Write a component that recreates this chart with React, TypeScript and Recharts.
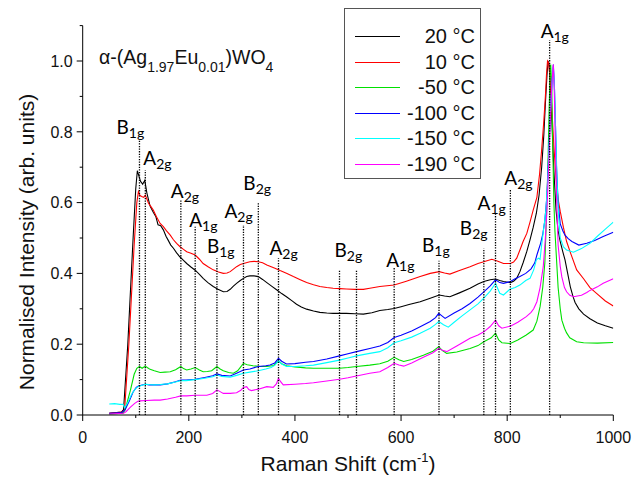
import React from 'react';
import { LineChart, Line, XAxis, YAxis, ReferenceLine, ReferenceDot } from 'recharts';

// ---------- data (Raman shift cm^-1, normalised intensity) ----------
const t20: number[][] = [[50,0.005],[73,0.008],[77,0.015],[85,0.2],[95,0.5],[100,0.64],[103,0.69],[106,0.675],[109,0.66],[113,0.652],[117,0.663],[121,0.627],[127,0.59],[133,0.573],[138,0.56],[142,0.537],[147,0.535],[152,0.523],[157,0.505],[161,0.494],[166,0.48],[171,0.471],[177,0.458],[183,0.447],[190,0.437],[196,0.428],[204,0.418],[212,0.409],[220,0.397],[227,0.386],[236,0.374],[246,0.363],[255,0.355],[265,0.348],[272,0.349],[278,0.355],[284,0.364],[290,0.372],[297,0.38],[303,0.386],[309,0.391],[315,0.393],[323,0.393],[331,0.391],[339,0.383],[347,0.374],[356,0.364],[366,0.353],[375,0.343],[384,0.334],[394,0.323],[403,0.313],[412,0.305],[422,0.299],[435,0.294],[447,0.29],[460,0.288],[472,0.287],[485,0.287],[497,0.287],[513,0.286],[529,0.285],[545,0.289],[560,0.295],[575,0.298],[587,0.301],[600,0.306],[615,0.312],[636,0.32],[655,0.33],[672,0.339],[682,0.336],[692,0.334],[710,0.345],[730,0.358],[745,0.37],[756,0.377],[768,0.382],[778,0.384],[786,0.38],[793,0.377],[806,0.374],[812,0.378],[818,0.386],[824,0.405],[830,0.43],[837,0.462],[843,0.495],[849,0.53],[855,0.57],[860,0.62],[865,0.7],[869,0.79],[872,0.88],[875,0.96],[877,1.0],[879,0.99],[882,0.92],[885,0.8],[888,0.69],[892,0.58],[896,0.52],[900,0.49],[905,0.46],[909,0.438],[914,0.4],[919,0.362],[924,0.335],[928,0.318],[935,0.3],[944,0.285],[956,0.272],[970,0.26],[985,0.252],[1000,0.245]];

const t10: number[][] = [[50,0.005],[75,0.008],[79,0.015],[87,0.2],[97,0.48],[102,0.6],[105,0.631],[108,0.62],[111,0.617],[115,0.615],[118,0.621],[121,0.61],[124,0.598],[128,0.59],[133,0.579],[139,0.56],[146,0.541],[152,0.532],[158,0.52],[165,0.508],[171,0.495],[177,0.485],[183,0.476],[190,0.468],[196,0.461],[204,0.457],[212,0.452],[220,0.44],[227,0.428],[237,0.418],[246,0.41],[256,0.404],[265,0.4],[272,0.401],[278,0.405],[284,0.412],[290,0.419],[297,0.425],[303,0.428],[315,0.433],[323,0.434],[331,0.433],[339,0.43],[347,0.424],[360,0.416],[372,0.408],[385,0.4],[397,0.391],[410,0.382],[422,0.374],[435,0.368],[447,0.363],[460,0.36],[472,0.358],[485,0.357],[497,0.356],[513,0.355],[529,0.355],[541,0.358],[560,0.363],[587,0.367],[610,0.378],[636,0.391],[655,0.4],[672,0.405],[682,0.401],[692,0.398],[710,0.408],[730,0.419],[745,0.428],[756,0.433],[771,0.44],[780,0.436],[793,0.428],[806,0.428],[812,0.432],[818,0.443],[824,0.466],[830,0.49],[837,0.513],[843,0.545],[849,0.579],[856,0.615],[861,0.68],[865,0.75],[869,0.83],[872,0.9],[874,0.96],[876,1.0],[878,0.995],[881,0.95],[884,0.87],[888,0.76],[892,0.67],[896,0.61],[900,0.575],[906,0.53],[912,0.49],[920,0.455],[931,0.41],[944,0.385],[956,0.36],[969,0.343],[985,0.322],[1000,0.308]];

const tm50: number[][] = [[50,0.003],[76,0.005],[80,0.015],[90,0.07],[97,0.115],[102,0.132],[107,0.137],[112,0.132],[118,0.138],[123,0.133],[127,0.129],[135,0.125],[146,0.12],[155,0.121],[165,0.122],[175,0.128],[185,0.137],[190,0.131],[196,0.127],[204,0.13],[212,0.134],[220,0.127],[227,0.122],[235,0.123],[243,0.125],[253,0.137],[259,0.13],[265,0.125],[275,0.12],[284,0.118],[292,0.125],[300,0.14],[303,0.146],[310,0.142],[321,0.139],[335,0.137],[347,0.137],[360,0.14],[369,0.153],[375,0.145],[384,0.139],[400,0.136],[420,0.133],[435,0.132],[460,0.132],[484,0.132],[500,0.134],[516,0.137],[541,0.141],[560,0.145],[575,0.152],[587,0.163],[596,0.156],[605,0.151],[620,0.157],[642,0.169],[660,0.18],[671,0.193],[678,0.182],[686,0.174],[705,0.178],[730,0.188],[745,0.196],[756,0.207],[770,0.218],[778,0.231],[784,0.212],[790,0.204],[806,0.202],[820,0.212],[836,0.226],[849,0.24],[856,0.265],[862,0.306],[867,0.36],[871,0.43],[874,0.56],[877,0.72],[879,0.86],[881,0.97],[882,0.99],[884,0.93],[886,0.75],[888,0.6],[890,0.52],[892,0.466],[896,0.36],[900,0.3],[903,0.268],[908,0.245],[912,0.232],[918,0.218],[931,0.207],[944,0.204],[970,0.203],[1000,0.205]];

const tm100: number[][] = [[50,0.005],[74,0.007],[80,0.015],[88,0.04],[95,0.065],[101,0.078],[105,0.082],[112,0.085],[118,0.087],[125,0.085],[135,0.085],[146,0.085],[160,0.088],[175,0.094],[185,0.099],[195,0.099],[212,0.101],[230,0.106],[245,0.111],[253,0.116],[262,0.112],[278,0.11],[290,0.118],[303,0.127],[315,0.13],[331,0.137],[345,0.139],[353,0.141],[362,0.147],[369,0.16],[375,0.152],[384,0.144],[400,0.145],[420,0.149],[435,0.151],[460,0.158],[484,0.167],[500,0.173],[516,0.179],[541,0.188],[560,0.195],[575,0.205],[587,0.219],[600,0.225],[620,0.237],[636,0.249],[655,0.264],[665,0.275],[671,0.287],[677,0.28],[683,0.273],[700,0.288],[715,0.3],[730,0.315],[745,0.333],[756,0.348],[768,0.365],[778,0.382],[786,0.374],[793,0.372],[806,0.377],[815,0.385],[824,0.391],[835,0.4],[845,0.413],[852,0.43],[856,0.452],[859,0.466],[863,0.485],[867,0.51],[871,0.55],[875,0.62],[878,0.73],[881,0.84],[884,0.93],[887,0.99],[889,0.93],[891,0.82],[893,0.7],[896,0.6],[900,0.54],[905,0.52],[909,0.508],[915,0.498],[922,0.49],[935,0.48],[950,0.485],[965,0.493],[981,0.504],[1000,0.516]];

const tm150: number[][] = [[50,0.031],[60,0.032],[70,0.03],[76,0.03],[79,0.02],[85,0.035],[92,0.058],[98,0.072],[104,0.08],[112,0.084],[118,0.087],[125,0.086],[135,0.085],[146,0.086],[160,0.088],[175,0.093],[185,0.097],[195,0.097],[212,0.1],[230,0.104],[245,0.108],[253,0.113],[262,0.109],[278,0.107],[290,0.112],[303,0.118],[315,0.121],[331,0.125],[345,0.13],[355,0.134],[362,0.14],[369,0.153],[375,0.144],[384,0.137],[400,0.137],[420,0.139],[435,0.141],[460,0.148],[484,0.155],[500,0.161],[516,0.167],[541,0.174],[560,0.179],[575,0.19],[587,0.204],[600,0.21],[620,0.22],[636,0.231],[655,0.245],[665,0.256],[671,0.264],[680,0.255],[689,0.248],[700,0.262],[715,0.28],[730,0.297],[745,0.314],[756,0.33],[768,0.35],[778,0.372],[786,0.344],[793,0.339],[805,0.355],[815,0.36],[824,0.367],[835,0.38],[843,0.386],[850,0.41],[855,0.438],[859,0.443],[862,0.44],[866,0.494],[870,0.54],[873,0.58],[876,0.65],[879,0.76],[882,0.87],[885,0.95],[887,0.98],[889,0.93],[891,0.82],[894,0.66],[897,0.56],[900,0.5],[906,0.475],[912,0.466],[925,0.46],[940,0.47],[956,0.485],[970,0.505],[985,0.525],[1000,0.545]];

const tm190: number[][] = [[50,0.003],[77,0.005],[82,0.01],[90,0.022],[98,0.033],[104,0.039],[108,0.04],[120,0.041],[135,0.042],[146,0.042],[160,0.045],[175,0.05],[185,0.054],[196,0.054],[212,0.056],[225,0.056],[234,0.056],[245,0.061],[253,0.071],[259,0.066],[265,0.061],[278,0.061],[290,0.063],[298,0.07],[303,0.078],[309,0.08],[313,0.072],[318,0.069],[331,0.073],[347,0.08],[359,0.078],[365,0.088],[369,0.104],[373,0.094],[378,0.085],[400,0.087],[420,0.089],[435,0.091],[460,0.096],[484,0.101],[500,0.105],[516,0.11],[541,0.118],[560,0.122],[575,0.134],[587,0.146],[596,0.141],[605,0.138],[620,0.147],[642,0.163],[660,0.176],[671,0.188],[678,0.183],[686,0.179],[705,0.195],[730,0.217],[745,0.226],[756,0.235],[768,0.25],[778,0.268],[784,0.252],[790,0.245],[806,0.251],[820,0.262],[836,0.278],[845,0.29],[850,0.3],[856,0.32],[862,0.36],[868,0.419],[872,0.5],[875,0.58],[878,0.7],[881,0.82],[884,0.93],[887,0.99],[889,0.9],[891,0.75],[893,0.62],[896,0.48],[900,0.42],[903,0.39],[908,0.36],[912,0.348],[918,0.338],[925,0.334],[940,0.338],[950,0.346],[956,0.352],[970,0.362],[981,0.372],[1000,0.385]];

const seriesNames = ['20 °C', '10 °C', '-50 °C', '-100 °C', '-150 °C', '-190 °C'];
const seriesData = [t20, t10, tm50, tm100, tm150, tm190];

// peak assignments (position, top of marker line, label)
const peakX = [107, 118, 185, 212, 253, 303, 331, 369, 484, 516, 587, 671.5, 756, 778, 806, 880];
const peakTop = [0.777, 0.692, 0.607, 0.532, 0.443, 0.537, 0.598, 0.443, 0.41, 0.41, 0.419, 0.436, 0.471, 0.571, 0.636, 1.059];
const peakMain = ['B', 'A', 'A', 'A', 'B', 'A', 'B', 'A', 'B', '', 'A', 'B', 'B', 'A', 'A', 'A'];
const peakSub = ['1g', '2g', '2g', '1g', '1g', '2g', '2g', '2g', '2g', '', '1g', '1g', '2g', '1g', '2g', '1g'];

const xTicks = [0, 100, 200, 300, 400, 500, 600, 700, 800, 900, 1000];
const yTicks = [0, 0.1, 0.2, 0.3, 0.4, 0.5, 0.6, 0.7, 0.8, 0.9, 1.0, 1.1];

// ---------- styling / layout ----------
const colors = ['#000000', '#ff0000', '#00e000', '#0000ff', '#00ffff', '#ff00ff'];
const labelOffsets = [[-23, -6], [-2, -5], [-10, -2], [-6, 0], [-10, -5], [-19, -7], [-15, -13], [-9, -3], [-5, -13], [0, 0], [-8, 0], [-17, -9], [-24, -13], [-18, -3], [-6, -5], [-9, -2]];
const legendRowTops = [15, 41, 66, 92, 117, 143];
const AX_FONT = '"Liberation Sans", Arial, sans-serif';

const YTick = (p: any) => {
  const { x, y, payload } = p;
  const k = Math.round(payload.value * 10);
  const major = k % 2 === 0;
  return (
    <g>
      <line x1={x} x2={x - (major ? 6 : 3)} y1={y} y2={y} stroke="#000" strokeWidth={1} />
      {major && (
        <text x={x - 10} y={y} dy="0.36em" textAnchor="end" fontSize={16} fontFamily={AX_FONT} fill="#111">
          {payload.value.toFixed(1)}
        </text>
      )}
    </g>
  );
};

const XTick = (p: any) => {
  const { x, y, payload } = p;
  const major = payload.value % 200 === 0;
  return (
    <g>
      <line x1={x} x2={x} y1={y} y2={y + (major ? 6 : 3)} stroke="#000" strokeWidth={1} />
      {major && (
        <text x={x} y={y + 28} textAnchor="middle" fontSize={16} fontFamily={AX_FONT} fill="#111">
          {payload.value}
        </text>
      )}
    </g>
  );
};

const PeakLabel = (props: any) => {
  const { cx, cy, i } = props;
  if (cx == null || cy == null || !peakMain[i]) return <g />;
  const [dx, dy] = labelOffsets[i];
  return (
    <text x={cx + dx} y={cy + dy} fontFamily="Lato, 'Open Sans', sans-serif" fontSize={19} fill="#000">
      {peakMain[i]}
      <tspan fontSize={14} dy={4}>{peakSub[i]}</tspan>
    </text>
  );
};

export default function App() {
  return (
    <div style={{ position: 'absolute', left: 0, top: 0, width: 633, height: 477, background: '#fff', overflow: 'hidden' }}>
      <LineChart width={633} height={477} margin={{ top: 25.6, right: 19.7, bottom: 22, left: 22.7 }}>
        <XAxis
          type="number"
          dataKey="x"
          domain={[0, 1000]}
          ticks={xTicks}
          allowDataOverflow
          height={40}
          tickSize={0}
          tickMargin={0}
          tick={<XTick />}
          axisLine={{ stroke: '#000', strokeWidth: 1 }}
          tickLine={false}
          interval={0}
          label={{
            content: () => (
              <text x={348} y={471} textAnchor="middle" fontSize={21} fontFamily={AX_FONT} fill="#111">
                Raman Shift (cm<tspan fontSize={13} dy={-9}>-1</tspan><tspan dy={9}>)</tspan>
              </text>
            ),
          }}
        />
        <YAxis
          type="number"
          domain={[0, 1.1]}
          ticks={yTicks}
          allowDataOverflow
          width={60}
          tickSize={0}
          tickMargin={0}
          tick={<YTick />}
          axisLine={{ stroke: '#000', strokeWidth: 1 }}
          tickLine={false}
          interval={0}
          label={{
            content: () => (
              <text x={34} y={242} transform="rotate(-90 34 242)" textAnchor="middle" fontSize={21} fontFamily={AX_FONT} fill="#111">
                Normalised Intensity (arb. units)
              </text>
            ),
          }}
        />
        {seriesData.map((s, i) => (
          <Line
            key={seriesNames[i]}
            name={seriesNames[i]}
            data={s.map(([x, y]) => ({ x, y }))}
            dataKey="y"
            type="linear"
            dot={false}
            activeDot={false}
            stroke={colors[i]}
            strokeWidth={1.1}
            isAnimationActive={false}
          />
        ))}
        {peakX.map((px, i) => (
          <ReferenceLine
            key={'l' + i}
            segment={[{ x: px, y: 0 }, { x: px, y: peakTop[i] }]}
            stroke="#000"
            strokeWidth={1.3}
            strokeDasharray="1.3 1.3"
          />
        ))}
        {peakX.map((px, i) => (
          <ReferenceDot
            key={'d' + i}
            x={px}
            y={peakTop[i]}
            r={0}
            shape={(p: any) => <PeakLabel {...p} i={i} />}
          />
        ))}
      </LineChart>

      <svg width={633} height={477} style={{ position: 'absolute', left: 0, top: 0, pointerEvents: 'none' }}>
        <text x={99} y={64} fontFamily={AX_FONT} fontSize={19.5} fill="#111">
          α-(Ag<tspan fontSize={14} dy={8}>1.97</tspan>
          <tspan dy={-8}>Eu</tspan>
          <tspan fontSize={14} dy={8}>0.01</tspan>
          <tspan dy={-8}>)WO</tspan>
          <tspan fontSize={14} dy={8}>4</tspan>
        </text>
      </svg>

      <div
        style={{
          position: 'absolute',
          left: 344,
          top: 8,
          width: 137,
          height: 171,
          border: '1px solid #555',
          boxSizing: 'border-box',
          background: '#fff',
          fontFamily: AX_FONT,
        }}
      >
        {seriesNames.map((n, i) => (
          <div key={n} style={{ position: 'absolute', left: 0, right: 0, top: legendRowTops[i], height: 24 }}>
            <div style={{ position: 'absolute', left: 10, width: 45, top: 12, height: 1, background: colors[i] }} />
            <div style={{ position: 'absolute', right: 5, top: 0, lineHeight: '24px', fontSize: 20, color: '#111', whiteSpace: 'nowrap' }}>
              {n}
            </div>
          </div>
        ))}
      </div>
    </div>
  );
}
